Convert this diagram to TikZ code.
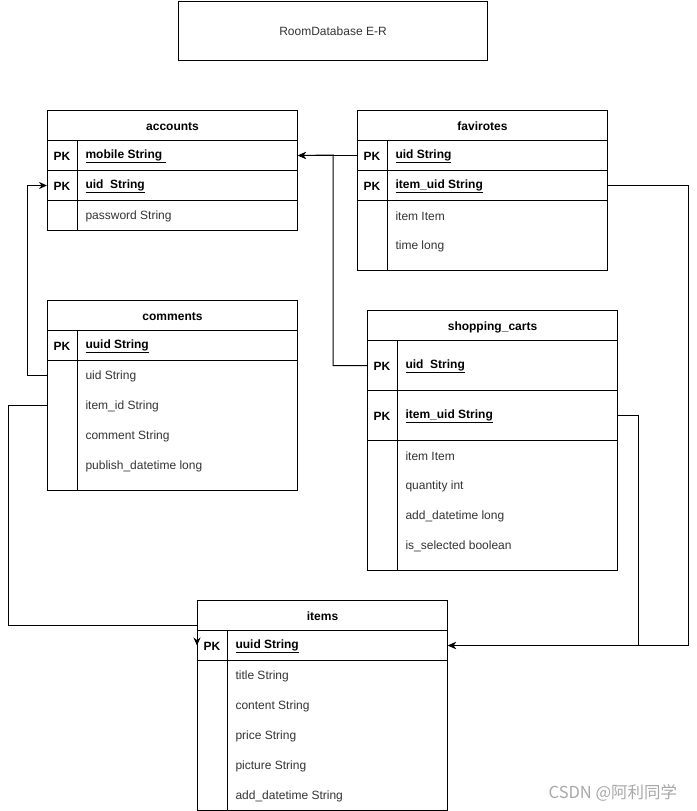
\documentclass[tikz,border=0pt]{standalone}
\usepackage{fontspec}
\setmainfont{Liberation Sans}
\newfontfamily\cjkfont{Noto Sans CJK SC}
\usetikzlibrary{arrows.meta}
\definecolor{txtgray}{HTML}{333333}
\definecolor{markgray}{HTML}{A8A8A8}
\tikzset{
	hdr/.style={draw, minimum width=250pt, minimum height=30pt, anchor=north west, inner sep=0pt, text height=12pt, text depth=2.5pt, font=\fontsize{12}{14}\selectfont\bfseries},
	keyrow/.style={draw, minimum width=250pt, minimum height=#1, anchor=north west, inner sep=0pt},
	keyrow/.default=30pt,
	attrow/.style={minimum width=250pt, minimum height=30pt, anchor=north west, inner sep=0pt},
	pk/.style={inner sep=0pt, yshift=-1.5pt, font=\fontsize{12}{14}\selectfont\bfseries},
	keytxt/.style={anchor=west, inner sep=0pt, yshift=-1.5pt, font=\fontsize{12}{14}\selectfont\bfseries},
	attrtxt/.style={anchor=west, inner sep=0pt, yshift=-1.5pt, text=txtgray},
	conn/.style={-{Stealth[length=8pt,width=7pt]}}
}
\begin{document}
\begin{tikzpicture}[x=1pt, y=-1pt, line width=1pt, font=\fontsize{12}{14}\selectfont]
			\useasboundingbox (0,0) rectangle (696,811);
			\node[draw, minimum width=309pt, minimum height=59pt, anchor=north west, text=txtgray] (title) at (178,1) {RoomDatabase E-R};
			% accounts
			\node[hdr] (acc) at (47,110) {accounts};
			\node[keyrow] (acc-mobile) at (47,140) {};
			\node[keyrow] (acc-uid) at (47,170) {};
			\node[keyrow] (acc-pwd) at (47,200) {};
			\draw (77,140) -- (77,230);
			\node[pk] (acc-pk1) at (62,155) {PK};
			\node[pk] (acc-pk2) at (62,185) {PK};
			\node[keytxt] (acc-mobile-txt) at (85,155) {\underline{mobile String\ }};
			\node[keytxt] (acc-uid-txt) at (85,185) {\underline{uid~~String}};
			\node[attrtxt] (acc-pwd-txt) at (85,215) {password String};
			% favirotes
			\node[hdr] (fav) at (357,110) {favirotes};
			\node[keyrow] (fav-uid) at (357,140) {};
			\node[keyrow] (fav-itemuid) at (357,170) {};
			\draw (357,200) rectangle (607,270);
			\draw (387,140) -- (387,270);
			\node[pk] (fav-pk1) at (372,155) {PK};
			\node[pk] (fav-pk2) at (372,185) {PK};
			\node[keytxt] (fav-uid-txt) at (395,155) {\underline{uid String}};
			\node[keytxt] (fav-itemuid-txt) at (395,185) {\underline{item\_uid String}};
			\foreach \nm/\txt [count=\i] in {item/item Item, time/time long}
				{
					\node[attrow] (fav-\nm) at (357,170+30*\i) {};
					\node[attrtxt] (fav-\nm-txt) at (395,185+30*\i) {\txt};
				}
			% comments
			\node[hdr] (com) at (47,300) {comments};
			\node[keyrow] (com-uuid) at (47,330) {};
			\draw (47,360) rectangle (297,490);
			\draw (77,330) -- (77,490);
			\node[pk] (com-pk1) at (62,345) {PK};
			\node[keytxt] (com-uuid-txt) at (85,345) {\underline{uuid String}};
			\foreach \nm/\txt [count=\i] in {uid/uid String, itemid/item\_id String, comment/comment String, publish/publish\_datetime long}
				{
					\node[attrow] (com-\nm) at (47,330+30*\i) {};
					\node[attrtxt] (com-\nm-txt) at (85,345+30*\i) {\txt};
				}
			% shopping_carts
			\node[hdr] (cart) at (367,310) {shopping\_carts};
			\node[keyrow=50pt] (cart-uid) at (367,340) {};
			\node[keyrow=50pt] (cart-itemuid) at (367,390) {};
			\draw (367,440) rectangle (617,570);
			\draw (397,340) -- (397,570);
			\node[pk] (cart-pk1) at (382,365) {PK};
			\node[pk] (cart-pk2) at (382,415) {PK};
			\node[keytxt] (cart-uid-txt) at (405,365) {\underline{uid~~String}};
			\node[keytxt] (cart-itemuid-txt) at (405,415) {\underline{item\_uid String}};
			\foreach \nm/\txt [count=\i] in {item/item Item, qty/quantity int, add/add\_datetime long, sel/is\_selected boolean}
				{
					\node[attrow] (cart-\nm) at (367,410+30*\i) {};
					\node[attrtxt] (cart-\nm-txt) at (405,425+30*\i) {\txt};
				}
			% items
			\node[hdr] (items) at (197,600) {items};
			\node[keyrow] (items-uuid) at (197,630) {};
			\draw (197,660) rectangle (447,810);
			\draw (227,630) -- (227,810);
			\node[pk] (items-pk1) at (212,645) {PK};
			\node[keytxt] (items-uuid-txt) at (235,645) {\underline{uuid String}};
			\foreach \nm/\txt [count=\i] in {title/title String, content/content String, price/price String, picture/picture String, add/add\_datetime String}
				{
					\node[attrow] (items-\nm) at (197,630+30*\i) {};
					\node[attrtxt] (items-\nm-txt) at (235,645+30*\i) {\txt};
				}
			% relations
			\coordinate (j1) at (333,155);
			\coordinate (j2) at (197,625);
			\draw[conn] (fav-uid.west) -- (acc-mobile.east);
			\draw[conn] (cart-uid.west) -| (j1) -- (acc-mobile.east);
			\draw[conn] (com-uid.west) -- ++(-20,0) |- (acc-uid.west);
			\draw[conn] (com-itemid.west) -- ++(-39,0) |- (j2) -- (items-uuid.west);
			\draw[conn] (fav-itemuid.east) -- ++(80,0) |- (items-uuid.east);
			\draw[conn] (cart-itemuid.east) -- ++(20,0) |- (items-uuid.east);
			\node[anchor=east, text=markgray, font=\cjkfont\fontsize{16.5}{18}\selectfont] (mark) at (681,793) {CSDN @阿利同学};
		\end{tikzpicture}
\end{document}
